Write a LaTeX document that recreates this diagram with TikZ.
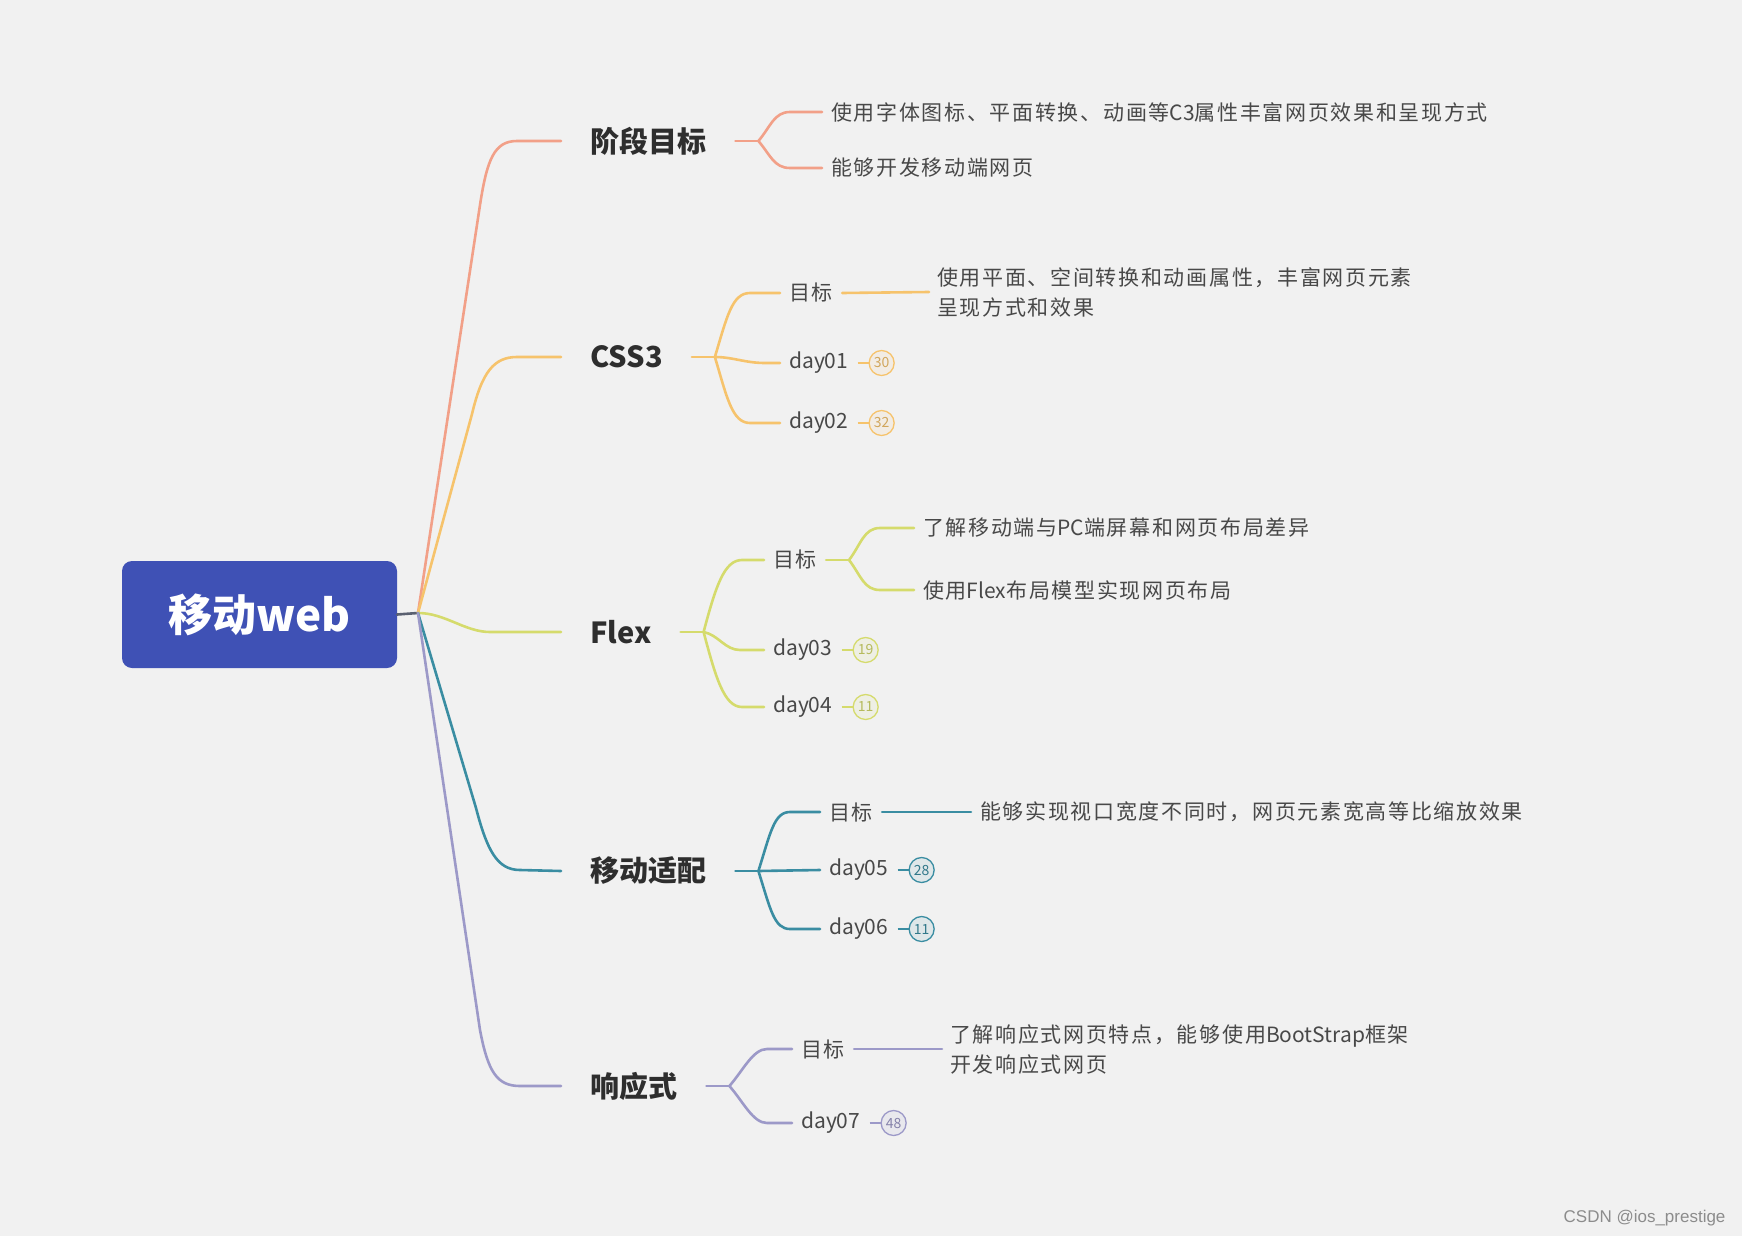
\documentclass[tikz,border=0pt]{standalone}
\usepackage{fontspec}
\setmainfont{Noto Sans CJK SC}
\newfontfamily\cjkw{Noto Sans CJK SC}[LetterSpace=8]
\newfontfamily\cjkn{Noto Sans CJK SC}
\newcommand\lat[1]{{\cjkn #1}}
\newfontfamily\wmfont{Liberation Sans}
\usetikzlibrary{positioning}
\definecolor{bg}{HTML}{F1F1F1}
\definecolor{cA}{HTML}{F2A088}
\definecolor{cB}{HTML}{F6C36C}
\definecolor{cC}{HTML}{D5DB6C}
\definecolor{cD}{HTML}{3A8DA2}
\definecolor{cE}{HTML}{9C99C8}
\definecolor{rootc}{HTML}{3F51B5}
\definecolor{rootl}{HTML}{5A6070}
\definecolor{maintxt}{HTML}{2E2E2E}
\definecolor{subtxt}{HTML}{484848}
\tikzset{
  rootbox/.style={rounded corners=10pt, fill=rootc, minimum width=275pt, minimum height=107pt, text=white, font=\bfseries\fontsize{44}{50}\selectfont},
  mainnode/.style={anchor=west, inner xsep=29pt, inner ysep=4pt, text=maintxt, font=\bfseries\fontsize{29}{34}\selectfont},
  subnode/.style={anchor=west, inner xsep=9pt, inner ysep=3pt, text=subtxt, font=\fontsize{21}{30}\selectfont},
  cjknode/.style={subnode, font=\cjkw\fontsize{21}{30}\selectfont},
  leafnode/.style={cjknode, align=left, inner xsep=8pt},
  badge/.style={circle, draw=#1, fill=#1!10!bg, line width=1.3pt, minimum size=25pt, inner sep=0pt, text=#1!85!black, font=\fontsize{14}{14}\selectfont},
  link/.style={line width=2.6pt, line cap=round, draw=#1},
  tick/.style={line width=1.5pt, draw=#1}
}
\begin{document}
\begin{tikzpicture}[x=1pt,y=-1pt]
\fill[bg] (0,0) rectangle (1742,1236);
\useasboundingbox (0,0) rectangle (1742,1236);

% root
\node[rootbox] (R) at (259.5,614.5) {移动web};
\coordinate (J) at (418,613);
\draw[link=rootl] (R.east) -- (J);

% main topics
\node[mainnode] (A) at (561,141) {阶段目标};
\node[mainnode] (B) at (561,357) {CSS3};
\node[mainnode] (C) at (561,632) {Flex};
\node[mainnode] (D) at (561,871) {移动适配};
\node[mainnode] (E) at (561,1086) {响应式};

\draw[link=cA] (J) -- (480,205) .. controls (487,160) and (494,141) .. (517,141) -- (A.west);
\draw[link=cB] (J) -- (472,414) .. controls (482,372) and (494,357) .. (517,357) -- (B.west);
\draw[link=cC] (J) .. controls (445,613) and (465,632) .. (490,632) -- (C.west);
\draw[link=cD] (J) -- (476,808) .. controls (487,850) and (497,870) .. (520,870) -- (D.west);
\draw[link=cE] (J) -- (480,1030) .. controls (488,1072) and (497,1086) .. (520,1086) -- (E.west);

\coordinate (jA) at ([xshift=23pt]A.east);
\coordinate (jB) at ([xshift=23pt]B.east);
\coordinate (jC) at ([xshift=23pt]C.east);
\coordinate (jD) at ([xshift=23pt]D.east);
\coordinate (jE) at ([xshift=23pt]E.east);
\draw[link=cA] (A.east) -- (jA);
\draw[link=cB] (B.east) -- (jB);
\draw[link=cC] (C.east) -- (jC);
\draw[link=cD] (D.east) -- (jD);
\draw[link=cE] (E.east) -- (jE);

% A children
\node[cjknode] (a1) at (822,112) {使用字体图标、平面转换、动画等\lat{C3}属性丰富网页效果和呈现方式};
\node[cjknode] (a2) at (822,168) {能够开发移动端网页};
\draw[link=cA] (jA) .. controls +(12,-14) and +(-16,0) .. ([xshift=-32pt]a1.west) -- (a1.west);
\draw[link=cA] (jA) .. controls +(12,14) and +(-16,0) .. ([xshift=-32pt]a2.west) -- (a2.west);

% B children
\node[cjknode] (b1) at (780,293) {目标};
\node[subnode] (b2) at (780,363) {day01};
\node[subnode] (b3) at (780,423) {day02};
\node[leafnode] (bt) at (929,292) {使用平面、空间转换和动画属性，丰富网页元素\\呈现方式和效果};
\draw[link=cB] (jB) .. controls +(12,-40) and +(-18,0) .. ([xshift=-30pt]b1.west) -- (b1.west);
\draw[link=cB] (jB) .. controls +(18,0) and +(-20,0) .. ([xshift=-15pt]b2.west) -- (b2.west);
\draw[link=cB] (jB) .. controls +(12,40) and +(-18,0) .. ([xshift=-30pt]b3.west) -- (b3.west);
\draw[link=cB] (b1.east) -- (bt.west);
\node[badge=cB, right=11pt of b2] (b2n) {30};
\node[badge=cB, right=11pt of b3] (b3n) {32};
\draw[tick=cB] (b2.east) -- (b2n.west);
\draw[tick=cB] (b3.east) -- (b3n.west);

% C children
\node[cjknode] (c1) at (764,560) {目标};
\node[subnode] (c2) at (764,650) {day03};
\node[subnode] (c3) at (764,707) {day04};
\draw[link=cC] (jC) .. controls +(12,-45) and +(-18,0) .. ([xshift=-22pt]c1.west) -- (c1.west);
\draw[link=cC] (jC) .. controls +(15,3) and +(-15,0) .. ([xshift=-24pt]c2.west) -- (c2.west);
\draw[link=cC] (jC) .. controls +(12,45) and +(-18,0) .. ([xshift=-22pt]c3.west) -- (c3.west);
\coordinate (jC1) at ([xshift=23pt]c1.east);
\draw[link=cC] (c1.east) -- (jC1);
\node[cjknode] (c11) at (914,528) {了解移动端与\lat{PC}端屏幕和网页布局差异};
\node[cjknode] (c12) at (914,590) {使用\lat{Flex}布局模型实现网页布局};
\draw[link=cC] (jC1) .. controls +(12,-16) and +(-16,0) .. ([xshift=-34pt]c11.west) -- (c11.west);
\draw[link=cC] (jC1) .. controls +(12,16) and +(-16,0) .. ([xshift=-34pt]c12.west) -- (c12.west);
\node[badge=cC, right=11pt of c2] (c2n) {19};
\node[badge=cC, right=11pt of c3] (c3n) {11};
\draw[tick=cC] (c2.east) -- (c2n.west);
\draw[tick=cC] (c3.east) -- (c3n.west);

% D children
\node[cjknode] (d1) at (820,812) {目标};
\node[subnode] (d2) at (820,870) {day05};
\node[subnode] (d3) at (820,929) {day06};
\node[cjknode] (dt) at (971,812) {能够实现视口宽度不同时，网页元素宽高等比缩放效果};
\draw[link=cD] (jD) .. controls +(12,-38) and +(-16,0) .. ([xshift=-30pt]d1.west) -- (d1.west);
\draw[link=cD] (jD) -- (d2.west);
\draw[link=cD] (jD) .. controls +(12,38) and +(-16,0) .. ([xshift=-30pt]d3.west) -- (d3.west);
\draw[link=cD] (d1.east) -- (dt.west);
\node[badge=cD, right=11pt of d2] (d2n) {28};
\node[badge=cD, right=11pt of d3] (d3n) {11};
\draw[tick=cD] (d2.east) -- (d2n.west);
\draw[tick=cD] (d3.east) -- (d3n.west);

% E children
\node[cjknode] (e1) at (792,1049) {目标};
\node[subnode] (e2) at (792,1123) {day07};
\node[leafnode] (et) at (942,1049) {了解响应式网页特点，能够使用\lat{BootStrap}框架\\开发响应式网页};
\draw[link=cE] (jE) .. controls +(14,-16) and +(-14,0) .. ([xshift=-25pt]e1.west) -- (e1.west);
\draw[link=cE] (jE) .. controls +(14,16) and +(-14,0) .. ([xshift=-25pt]e2.west) -- (e2.west);
\draw[link=cE] (e1.east) -- (et.west);
\node[badge=cE, right=11pt of e2] (e2n) {48};
\draw[tick=cE] (e2.east) -- (e2n.west);

% watermark
\node[anchor=east, text=black!45, font=\wmfont\fontsize{17}{17}\selectfont] (wm) at (1729,1218) {CSDN @ios\_prestige};
\end{tikzpicture}
\end{document}
